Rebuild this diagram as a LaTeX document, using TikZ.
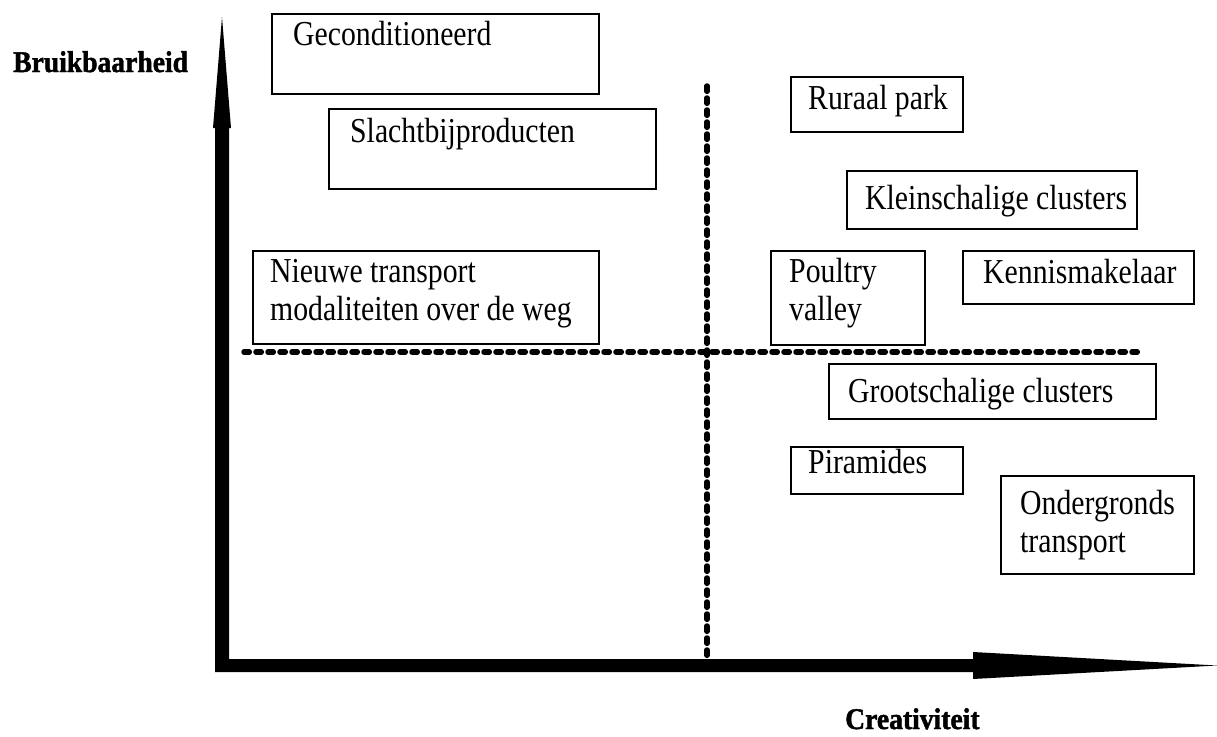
\documentclass[tikz,border=0pt]{standalone}
\usepackage{fontspec}
\setmainfont{Liberation Serif}[FakeStretch=0.85]
\newfontfamily\axisfont{Liberation Serif}[FakeStretch=0.92,FakeBold=1.5]
\begin{document}
\begin{tikzpicture}[x=1pt,y=-1pt,
  box/.style={draw,line width=2pt,rectangle,anchor=north west,inner sep=0pt},
  lbl/.style={anchor=base west,inner sep=0pt,font=\fontsize{35}{37.5}\selectfont,align=left},
  axislbl/.style={anchor=base west,inner sep=0pt,font=\axisfont\bfseries\fontsize{30}{34}\selectfont},
  divider/.style={line width=5.5pt,dash pattern=on 5.3pt off 6.7pt,line cap=round},
  axis/.style={fill=black}]
\useasboundingbox (0,0) rectangle (1217,736);
% axes
\coordinate (ytip) at (222,17);
\coordinate (xtip) at (1217,665.5);
\coordinate (corner) at (215,672);
\fill[axis] (ytip) -- (231,128) -- (229,128) -- (229,659) -- (973,659) -- (973,652)
  -- (xtip) -- (973,679) -- (973,672) -- (corner) -- (215,128) -- (213,128) -- cycle;
% dividers
\coordinate (hl) at (244,352);
\coordinate (hr) at (1142,352);
\coordinate (vt) at (707,86);
\coordinate (vb) at (707,664);
\draw[divider] (hl) -- (hr);
\draw[divider] (vt) -- (vb);
% axis labels
\node[axislbl] (yl) at (13,72) {Bruikbaarheid};
\node[axislbl] (xl) at (845,729) {Creativiteit};
% boxes
\node[box,minimum width=327pt,minimum height=80pt] (b1) at (271,13) {};
\node[lbl] (t1) at (293,45) {Geconditioneerd};
\node[box,minimum width=327pt,minimum height=80pt] (b2) at (328,108) {};
\node[lbl] (t2) at (350,142) {Slachtbijproducten};
\node[box,minimum width=346pt,minimum height=93pt] (b3) at (252,250) {};
\node[lbl] (t3) at (270,320) {Nieuwe transport\\modaliteiten over de weg};
\node[box,minimum width=172pt,minimum height=55pt] (b4) at (790,76) {};
\node[lbl] (t4) at (808,109) {Ruraal park};
\node[box,minimum width=290pt,minimum height=58pt] (b5) at (846,170) {};
\node[lbl] (t5) at (865,209) {Kleinschalige clusters};
\node[box,minimum width=154pt,minimum height=94pt] (b6) at (770,250) {};
\node[lbl] (t6) at (789,320) {Poultry\\valley};
\node[box,minimum width=231pt,minimum height=53pt] (b7) at (962,250) {};
\node[lbl] (t7) at (983,283) {Kennismakelaar};
\node[box,minimum width=327pt,minimum height=55pt] (b8) at (828,363) {};
\node[lbl] (t8) at (848,402) {Grootschalige clusters};
\node[box,minimum width=172pt,minimum height=47pt] (b9) at (790,446) {};
\node[lbl] (t9) at (808,473) {Piramides};
\node[box,minimum width=193pt,minimum height=98pt] (b10) at (1000,475) {};
\node[lbl] (t10) at (1020,552) {Ondergronds\\transport};
\end{tikzpicture}
\end{document}
